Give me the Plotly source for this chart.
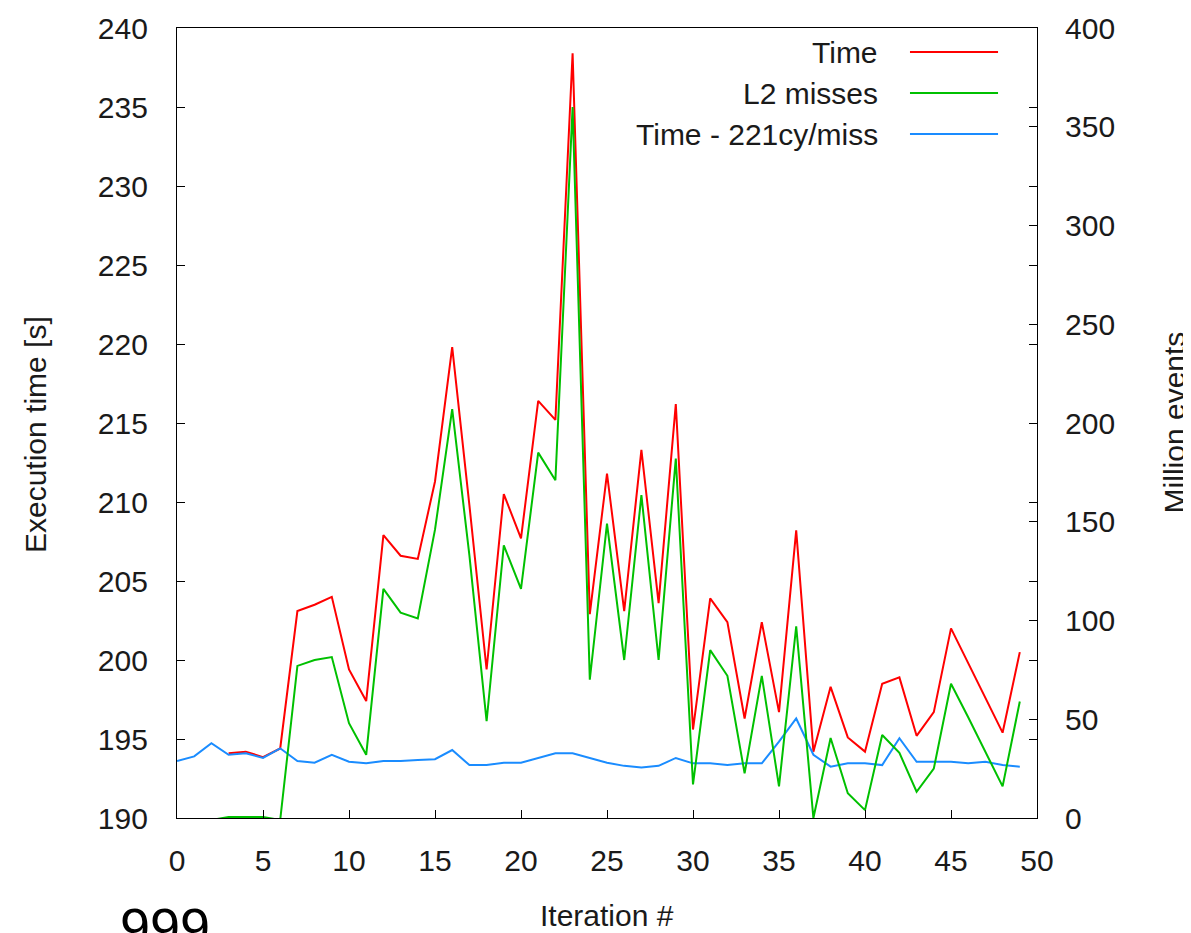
import plotly.graph_objects as go

iterations = list(range(50))

time_s = [None, None, None, 194.1, 194.2, 193.85, 194.4, 203.1, 203.5, 204.0,
          199.4, 197.4, 207.9, 206.6, 206.4, 211.3, 219.8, 209.8, 199.4, 210.5,
          207.7, 216.4, 215.2, 238.4, 202.9, 211.8, 203.1, 213.3, 203.6, 216.2,
          195.6, 203.9, 202.4, 196.3, 202.4, 196.7, 208.2, 194.2, 198.3, 195.1,
          194.2, 198.5, 198.9, 195.2, 196.7, 202.0, 199.8, 197.6, 195.4, 200.5]

l2_misses = [-1, -1, -1, 0.5, 0.5, 0.5, -1, 77, 80, 81.5,
             48, 32, 116, 104, 101, 146, 207, 133, 49, 138,
             116, 185, 171, 360, 70, 149, 80, 163.5, 80, 182,
             17, 85, 72, 22.6, 72, 16, 97, 0, 40.5, 12.5,
             4, 42, 33, 13.3, 25, 68, 51, 33.5, 16, 59]

time_adj = [193.6, 193.9, 194.73, 194.0, 194.1, 193.8, 194.41, 193.6, 193.5, 194.0,
            193.56, 193.46, 193.6, 193.6, 193.67, 193.72, 194.3, 193.35, 193.35, 193.5,
            193.5, 193.78, 194.1, 194.1, 193.8, 193.5, 193.3, 193.2, 193.3, 193.8,
            193.46, 193.46, 193.35, 193.46, 193.46, 194.83, 196.3, 194.0, 193.25, 193.46,
            193.46, 193.35, 195.05, 193.56, 193.56, 193.56, 193.46, 193.56, 193.35, 193.25]

series_names = ["Time", "L2 misses", "Time - 221cy/miss"]
series_colors = ["#ff0000", "#00c000", "#1a8cff"]

x_ticks = list(range(0, 51, 5))
y_ticks = list(range(190, 241, 5))
y2_ticks = list(range(0, 401, 50))

FONT = "Liberation Sans, Arial, sans-serif"
TXT = "#1a1a1a"
FS = 30
LW = 2

fig = go.Figure()
fig.add_trace(go.Scatter(x=iterations, y=time_s, mode="lines", name=series_names[0],
                         line=dict(color=series_colors[0], width=LW), yaxis="y"))
fig.add_trace(go.Scatter(x=iterations, y=l2_misses, mode="lines", name=series_names[1],
                         line=dict(color=series_colors[1], width=LW), yaxis="y2"))
fig.add_trace(go.Scatter(x=iterations, y=time_adj, mode="lines", name=series_names[2],
                         line=dict(color=series_colors[2], width=LW), yaxis="y"))

# manual legend (text to the left of the line sample)
leg_y = [0.9696, 0.9177, 0.8658]
annotations = []
shapes = []
for name, col, yy in zip(series_names, series_colors, leg_y):
    annotations.append(dict(xref="paper", yref="paper", x=0.8174, y=yy, text=name,
                            showarrow=False, xanchor="right", yanchor="middle",
                            font=dict(family=FONT, size=FS, color=TXT)))
    shapes.append(dict(type="line", xref="paper", yref="paper", x0=0.8523, x1=0.9547,
                       y0=yy, y1=yy, line=dict(color=col, width=LW)))

annotations += [
    dict(xref="paper", yref="paper", x=-0.1651, y=0.4848, text="Execution time [s]",
         textangle=-90, showarrow=False, xanchor="center", yanchor="middle",
         font=dict(family=FONT, size=FS, color=TXT)),
    dict(xref="paper", yref="paper", x=1.1595, y=0.501, text="Million events",
         textangle=-90, showarrow=False, xanchor="center", yanchor="middle",
         font=dict(family=FONT, size=FS, color=TXT)),
    dict(xref="paper", yref="paper", x=0.5, y=-0.124, text="Iteration #",
         showarrow=False, xanchor="center", yanchor="middle",
         font=dict(family=FONT, size=FS, color=TXT)),
    dict(xref="paper", yref="paper", x=-0.0140, y=-0.0975, text="999",
         showarrow=False, xanchor="center", yanchor="top",
         font=dict(family=FONT, size=54, color="#000000")),
]

axis_common = dict(showgrid=False, zeroline=False, showline=True, linecolor="#000000",
                   linewidth=1.2, ticks="inside", ticklen=8, tickcolor="#000000",
                   tickwidth=1.2, automargin=False,
                   tickfont=dict(family=FONT, size=FS, color=TXT))

# page body adds an 8px offset; margins compensate so the plot area lands at 177..1037 x 28..818
fig.update_layout(
    width=1191, height=933,
    margin=dict(l=169, r=162, t=20, b=123),
    paper_bgcolor="white", plot_bgcolor="white",
    showlegend=False,
    xaxis=dict(range=[0, 50], tickvals=x_ticks, mirror=True, ticklabelstandoff=16,
               **axis_common),
    yaxis=dict(range=[190, 240], tickvals=y_ticks, mirror="ticks", ticklabelstandoff=22,
               **axis_common),
    yaxis2=dict(range=[0, 400], tickvals=y2_ticks, overlaying="y", side="right",
                ticklabelstandoff=21, **axis_common),
    annotations=annotations,
    shapes=shapes,
)

fig.write_html("out.html")
